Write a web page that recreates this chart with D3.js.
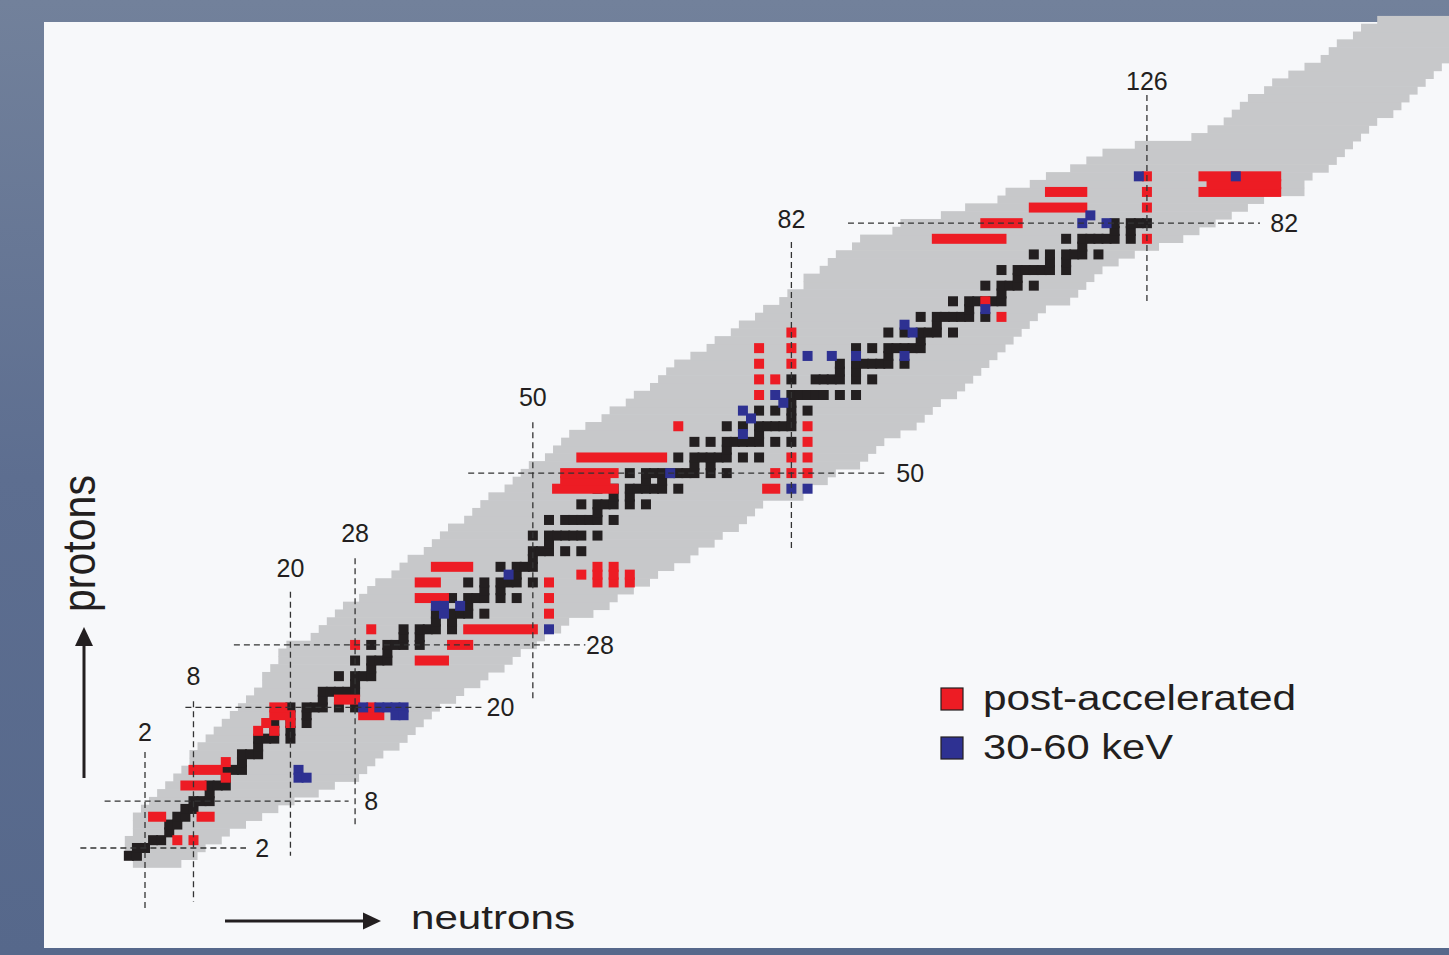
<!DOCTYPE html>
<html>
<head>
<meta charset="utf-8">
<script src="https://cdn.jsdelivr.net/npm/d3@7"></script>
<style>
html, body { margin: 0; padding: 0; background: #66779a; overflow: hidden; }
svg { display: block; }
text { font-family: "Liberation Sans", Arial, Helvetica, sans-serif; fill: #231f20; }
</style>
</head>
<body>
<svg id="chart" width="1449" height="955"></svg>
<script>
// known nuclides band, one entry per Z (index = Z, 0..108)
var greyNmin = [1,0,0,0,1,1,1,2,3,4, 5,6,7,8,8,9,10,11,12,13, 14,15,16,17,17,18,19,19,20,23,
    24,25,26,27,29,30,31,33,34,35, 37,38,39,40,42,43,44,45,47,48, 49,50,52,53,54,55,57,59,60,62,
    63,65,66,67,68,70,72,73,75,76, 78,79,81,82,84,84,86,87,88,90, 91,95,96,101,104,108,109,112,114,117,
    119,121,125,132,134,136,137,138,139,141, 142,144,146,148,149,150,152,153,155];
var greyNmax = [6,8,9,11,12,14,16,18,20,23, 25,28,29,30,31,33,34,35,36,37, 38,40,41,43,44,46,47,48,50,51,
    53,54,57,59,60,62,64,65,67,69, 70,72,73,75,76,77,78,83,84,86, 87,90,91,92,93,95,97,98,99,100,
    102,103,104,105,106,107,108,109,110,111, 112,113,116,117,118,119,120,122,124,127,
    130,132,134,136,138,140,145,145,146,148, 149,150,151,152,153,154,156,157,158,159,
    160,161,162,164,164,164,164,164,164];

// stable isotopes: neutron numbers for Z = 1..82
var stableN = [
    [0,1],[1,2],[3,4],[5],[5,6],[6,7],[7,8],[8,9,10],[10],[10,11,12],
    [12],[12,13,14],[14],[14,15,16],[16],[16,17,18,20],[18,20],[18,20,22],[20,22],[20,22,23,24,26,28],
    [24],[24,25,26,27,28],[28],[26,28,29,30],[30],[28,30,31,32],[32],[30,32,33,34,36],[34,36],[34,36,37,38,40],
    [38,40],[38,40,41,42,44],[42],[40,42,43,44,46,48],[44,46],[42,44,46,47,48,50],[48],[46,48,49,50],[50],[50,51,52,54,56],
    [52],[50,52,53,54,55,56,58],[],[52,54,55,56,57,58,60],[58],[56,58,59,60,62,64],[60,62],[58,60,62,63,64,65,66,68],[64,66],[62,64,65,66,67,68,69,70,72,74],
    [70,72],[68,70,71,72,73,74,76,78],[74],[70,72,74,75,76,77,78,80,82],[78],[74,76,78,79,80,81,82],[82],[78,80,82,84],[82],[82,83,84,85,86,88,90],
    [],[82,85,86,87,88,90,92],[88,90],[88,90,91,92,93,94,96],[94],[90,92,94,95,96,97,98],[98],[94,96,98,99,100,102],[100],[98,100,101,102,103,104,106],
    [104],[102,104,105,106,107,108],[108],[106,108,109,110,112],[110],[108,110,111,112,113,114,116],[114,116],[112,114,116,117,118,120],[118],[116,118,119,120,121,122,124],
    [122,124],[122,124,125,126]
];

// post-accelerated beams: [Z, first N, last N]
var postAccel = [
    [3,6,6],[3,8,8],[6,3,4],[6,9,10],[10,7,9],[11,12,12],[12,8,11],[13,12,12],
    [17,16,16],[17,18,18],[18,17,17],[18,20,20],[19,18,20],[20,18,19],
    [19,29,31],[20,30,30],[21,26,28],
    [26,36,39],[28,28,28],[28,40,42],[30,30,30],[30,42,50],
    [32,52,52],[34,36,39],[34,52,52],
    [36,36,38],[36,52,52],[36,58,58],[36,60,60],[36,62,62],
    [37,56,56],[37,58,58],[37,60,60],[37,62,62],
    [38,38,42],[38,58,58],[38,60,60],
    [48,53,60],[48,79,80],[49,54,59],[50,54,60],[50,80,80],[50,82,82],[50,84,84],
    [52,56,66],[52,82,82],[52,84,84],[54,84,84],[56,68,68],[56,84,84],
    [60,78,78],[62,78,78],[62,80,80],[64,78,78],[64,82,82],[66,78,78],[66,82,82],[68,82,82],
    [70,108,108],[72,106,106],
    [80,100,108],[80,126,126],[82,106,110],[84,112,118],[84,126,126],
    [86,114,118],[86,126,126],[86,133,142],[87,134,142],[88,126,126],[88,133,142]
];

// 30-60 keV beams: [N, Z]
var keV = [[21,12],[21,11],[22,11],[29,20],[31,20],[32,20],[33,20],[34,20],[33,19],[34,19],
    [38,33],[39,33],[39,32],[41,33],[47,37],[52,30],[67,50],[82,48],[84,48],
    [76,55],[76,58],[77,57],[80,60],[81,59],[84,65],[87,65],[90,65],[96,65],[96,69],[97,68],
    [106,71],[118,82],[119,83],[121,82],[125,88],[137,88]];

// magic numbers: vertical lines (neutrons) with Z extent and label Z
var magicN = [2, 8, 20, 28, 50, 82, 126];
var magicNFrom = [-6, -4.9, 1, 5, 21, 40, 72];
var magicNTo = [14.3, 20.8, 34.8, 39.1, 56.5, 79.6, 98.4];
var magicNLabelZ = [16.9, 24.05, 37.8, 42.3, 59.7, 82.5, 100.2];
// horizontal lines (protons) with N extent and label N
var magicZ = [2, 8, 20, 28, 50, 82];
var magicZFrom = [-6, -3, 7, 13, 42, 89];
var magicZTo = [14.5, 27.2, 43.8, 56.5, 93.7, 140];
var magicZLabelN = [16.5, 30, 46, 58.3, 96.7, 143];

var legendLabels = ["post-accelerated", "30-60 keV"];
var legendColors = ["#ed1c24", "#2e3192"];

var svg = d3.select("#chart");

var bg = svg.append("defs").append("linearGradient")
    .attr("id", "bg").attr("x1", 0).attr("y1", 0).attr("x2", 0).attr("y2", 1);
bg.append("stop").attr("offset", 0).attr("stop-color", "#72819b");
bg.append("stop").attr("offset", 0.5).attr("stop-color", "#5d6e90");
bg.append("stop").attr("offset", 1).attr("stop-color", "#56688b");

svg.append("rect").attr("width", 1449).attr("height", 955).attr("fill", "url(#bg)");
svg.append("rect").attr("x", 44).attr("y", 22).attr("width", 1410).attr("height", 926)
    .attr("fill", "#f7f8fa");

var x = d3.scaleLinear().domain([0, 100]).range([128.84, 936.84]);
var y = d3.scaleLinear().domain([0, 100]).range([863.6, 82.6]);
var cw = x(1) - x(0);
var ch = y(0) - y(1);
var sq = 10;

// grey band
var rows = greyNmin.map(function(n, z) { return {z: z, n0: n, n1: greyNmax[z]}; });
svg.append("g").selectAll("rect")
    .data(rows)
    .enter()
    .append("rect")
    .attr("x", function(d) { return x(d.n0) - cw / 2; })
    .attr("y", function(d) { return y(d.z) - ch / 2 - 0.3; })
    .attr("width", function(d) { return x(d.n1) - x(d.n0) + cw; })
    .attr("height", ch + 0.6)
    .attr("fill", "#c7c8ca");

// stable
var stable = [];
stableN.forEach(function(list, i) {
    list.forEach(function(n) { stable.push({n: n, z: i + 1}); });
});
svg.append("g").selectAll("rect")
    .data(stable)
    .enter()
    .append("rect")
    .attr("x", function(d) { return x(d.n) - sq / 2; })
    .attr("y", function(d) { return y(d.z) - sq / 2; })
    .attr("width", sq).attr("height", sq)
    .attr("fill", "#231f20");

// post-accelerated
svg.append("g").selectAll("rect")
    .data(postAccel)
    .enter()
    .append("rect")
    .attr("x", function(d) { return x(d[1]) - sq / 2; })
    .attr("y", function(d) { return y(d[0]) - sq / 2; })
    .attr("width", function(d) { return x(d[2]) - x(d[1]) + sq; })
    .attr("height", sq)
    .attr("fill", "#ed1c24");

// 30-60 keV
svg.append("g").selectAll("rect")
    .data(keV)
    .enter()
    .append("rect")
    .attr("x", function(d) { return x(d[0]) - sq / 2; })
    .attr("y", function(d) { return y(d[1]) - sq / 2; })
    .attr("width", sq).attr("height", sq)
    .attr("fill", "#2e3192");

// magic lines
var lines = svg.append("g")
    .attr("stroke", "#333").attr("stroke-width", 1.3).attr("stroke-dasharray", "6,4");
lines.selectAll("line.v")
    .data(magicN)
    .enter()
    .append("line")
    .attr("class", "v")
    .attr("x1", function(d) { return x(d); })
    .attr("x2", function(d) { return x(d); })
    .attr("y1", function(d, i) { return y(magicNTo[i]); })
    .attr("y2", function(d, i) { return y(magicNFrom[i]); });
lines.selectAll("line.h")
    .data(magicZ)
    .enter()
    .append("line")
    .attr("class", "h")
    .attr("y1", function(d) { return y(d); })
    .attr("y2", function(d) { return y(d); })
    .attr("x1", function(d, i) { return x(magicZFrom[i]); })
    .attr("x2", function(d, i) { return x(magicZTo[i]); });

svg.append("g").selectAll("text")
    .data(magicN)
    .enter()
    .append("text")
    .attr("x", function(d) { return x(d); })
    .attr("y", function(d, i) { return y(magicNLabelZ[i]); })
    .attr("dy", "0.36em")
    .attr("text-anchor", "middle")
    .style("font-size", "25px")
    .text(function(d) { return d; });

svg.append("g").selectAll("text")
    .data(magicZ)
    .enter()
    .append("text")
    .attr("x", function(d, i) { return x(magicZLabelN[i]); })
    .attr("y", function(d) { return y(d); })
    .attr("dy", "0.36em")
    .attr("text-anchor", "middle")
    .style("font-size", "25px")
    .text(function(d) { return d; });

// legend
var legend = svg.append("g");
legend.selectAll("rect")
    .data(legendLabels)
    .enter()
    .append("rect")
    .attr("x", 941)
    .attr("y", function(d, i) { return 688 + i * 49; })
    .attr("width", 22).attr("height", 22)
    .attr("fill", function(d, i) { return legendColors[i]; })
    .attr("stroke", "#231f20").attr("stroke-width", 1.2);
legend.selectAll("text")
    .data(legendLabels)
    .enter()
    .append("text")
    .attr("x", 983)
    .attr("y", function(d, i) { return 710 + i * 49; })
    .attr("textLength", function(d, i) { return i === 0 ? 313 : 190; })
    .attr("lengthAdjust", "spacingAndGlyphs")
    .style("font-size", "35px")
    .text(function(d) { return d; });

// axis arrows
svg.append("line").attr("x1", 84).attr("x2", 84).attr("y1", 778).attr("y2", 642)
    .attr("stroke", "#231f20").attr("stroke-width", 3);
svg.append("path").attr("d", "M84,627 L75,646 L93,646 Z").attr("fill", "#231f20");
svg.append("text")
    .attr("transform", "translate(94.5,543.5) rotate(-90) scale(1,1.12)")
    .attr("text-anchor", "middle")
    .attr("textLength", 137)
    .attr("lengthAdjust", "spacingAndGlyphs")
    .style("font-size", "41px")
    .text("protons");

svg.append("line").attr("x1", 225).attr("x2", 366).attr("y1", 921).attr("y2", 921)
    .attr("stroke", "#231f20").attr("stroke-width", 3);
svg.append("path").attr("d", "M381,921 L363,912.5 L363,929.5 Z").attr("fill", "#231f20");
svg.append("text")
    .attr("x", 411)
    .attr("y", 928.5)
    .attr("textLength", 164)
    .attr("lengthAdjust", "spacingAndGlyphs")
    .style("font-size", "33px")
    .text("neutrons");
</script>
</body>
</html>
